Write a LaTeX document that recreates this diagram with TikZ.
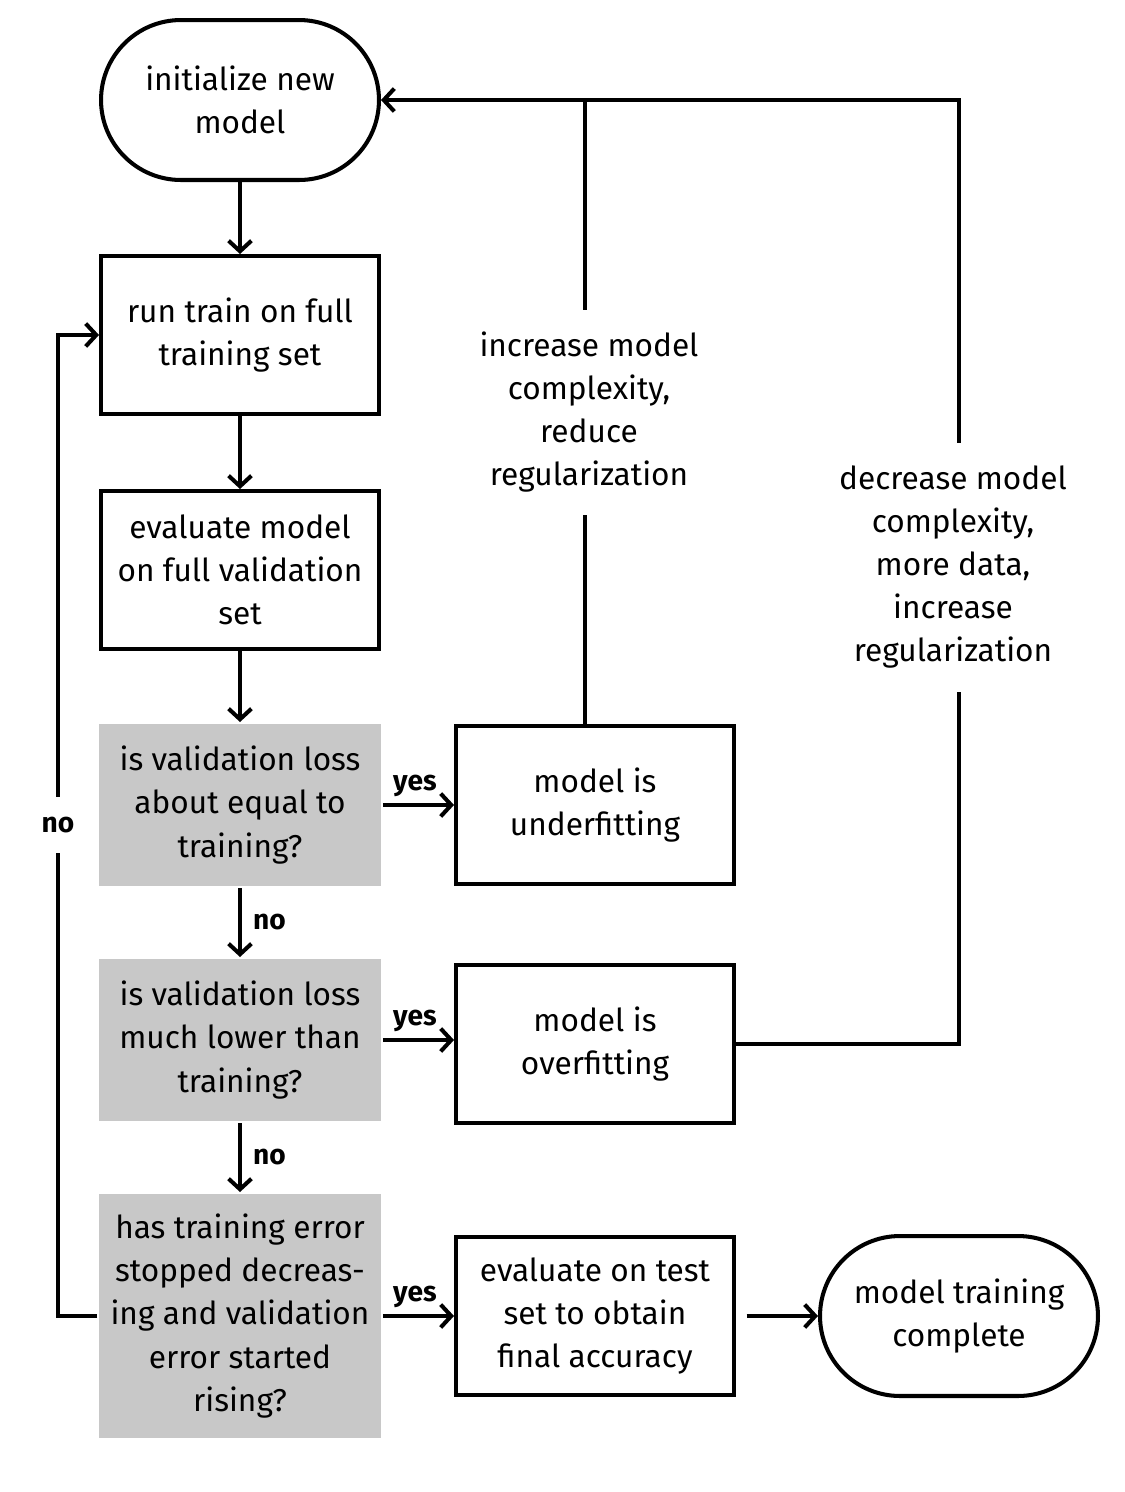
\documentclass[tikz,border=0pt]{standalone}
\usepackage{fontspec}
\setmainfont{Fira Sans}
\usetikzlibrary{arrows.meta}
\definecolor{decgray}{HTML}{C8C8C8}
\begin{document}
\begin{tikzpicture}[x=0.02cm,y=-0.02cm,
  line width=2.3pt,
  every node/.style={font=\fontsize{18}{24.5}\selectfont, align=center},
  box/.style={draw, line width=2.3pt, minimum width=5.56cm, minimum height=3.16cm, inner sep=0pt},
  term/.style={draw, line width=2.3pt, rounded corners=1.6cm, minimum width=5.56cm, minimum height=3.2cm, inner sep=0pt},
  decbox/.style={fill=decgray, minimum width=5.64cm, minimum height=3.24cm, inner sep=0pt},
  lbl/.style={font=\bfseries\fontsize{16}{19}\selectfont},
  sidetext/.style={inner sep=0pt},
  arr/.style={-{Straight Barb[length=6pt,width=13pt]}}]
\useasboundingbox (0,0) rectangle (1125,1492);

\node[term] (s) at (240,100) {initialize new\\model};
\node[box] (b1) at (240,335) {run train on full\\training set};
\node[box] (b2) at (240,570) {evaluate model\\on full validation\\set};
\node[decbox] (d1) at (240,805) {is validation loss\\about equal to\\training?};
\node[decbox] (d2) at (240,1040) {is validation loss\\much lower than\\training?};
\node[decbox, minimum height=4.88cm] (d3) at (240,1316) {has training error\\stopped decreas-\\ing and validation\\error started\\rising?};
\node[box] (u) at (595,805) {model is\\underfitting};
\node[box] (o) at (595,1044) {model is\\overfitting};
\node[box] (e) at (595,1316) {evaluate on test\\set to obtain\\final accuracy};
\node[term] (c) at (959,1316) {model training\\complete};

\node[sidetext, minimum height=4.02cm] (inc) at (589,412) {increase model\\complexity,\\reduce\\regularization};
\node[sidetext, minimum height=4.9cm] (dec) at (953,567) {decrease model\\complexity,\\more data,\\increase\\regularization};
\node[lbl, sidetext, minimum height=1.04cm] (nol) at (58,825) {no};

\coordinate (j1) at (585,100);
\coordinate (j2) at (959,100);

\draw[arr] (s) -- (b1);
\draw[arr] (b1) -- (b2);
\draw[arr] (b2) -- (d1);
\draw[arr] (d1) -- node[lbl, right, xshift=3pt] {no} (d2);
\draw[arr] (d2) -- node[lbl, right, xshift=3pt] {no} (d3);
\draw[arr] (d1) -- node[lbl, above, pos=0.45] {yes} (u);
\draw[arr] (d2.east) -- node[lbl, above, pos=0.45] {yes} (d2.east -| o.west);
\draw[arr] (d3) -- node[lbl, above, pos=0.45] {yes} (e);
\draw[arr, shorten <=6pt] (e) -- (c);

\draw (j1 |- u.north) -- (j1 |- inc.south);
\draw (j1 |- inc.north) -- (j1);
\draw (o.east) -| (j2 |- dec.south);
\draw[arr] (j2 |- dec.north) -- (j2) -- (s.east);

\draw (d3.west) -| (nol.south);
\draw[arr] (nol.north) |- (b1.west);
\end{tikzpicture}
\end{document}
